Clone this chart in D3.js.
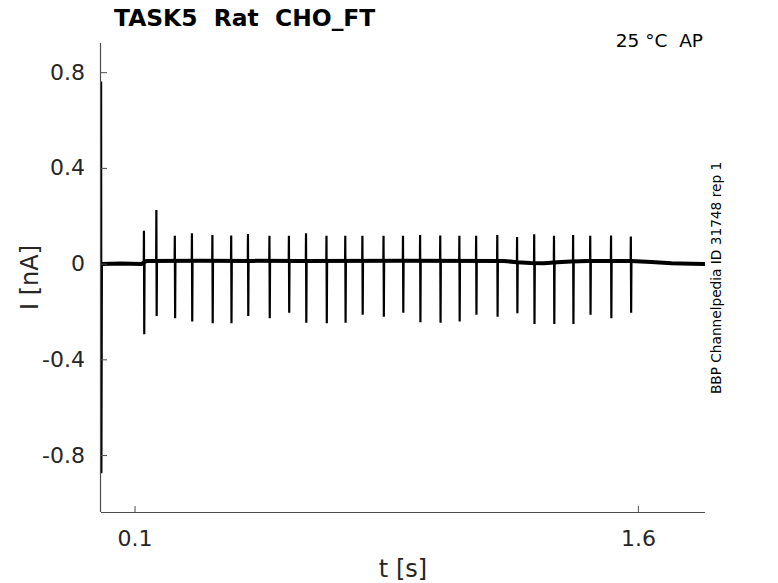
<!DOCTYPE html>
<html>
<head>
<meta charset="utf-8">
<script src="https://cdn.jsdelivr.net/npm/d3@7"></script>
<style>
  html, body { margin: 0; padding: 0; background: #fff; }
  svg { display: block; font-family: "DejaVu Sans", sans-serif; }
</style>
</head>
<body>
<svg id="chart" width="778" height="583"></svg>
<script>
// ---- data ----
const xTicks = [0.1, 1.6];
const yTicks = [-0.8, -0.4, 0, 0.4, 0.8];
const yTickLabels = ["-0.8", "-0.4", "0", "0.4", "0.8"];

const spikeTimes = [0.128, 0.165, 0.220, 0.271, 0.332, 0.388, 0.438, 0.502, 0.560, 0.611,
  0.672, 0.728, 0.779, 0.842, 0.900, 0.951, 1.011, 1.068, 1.118, 1.181,
  1.240, 1.291, 1.350, 1.407, 1.458, 1.520, 1.579];
const spikePeaks = [0.137, 0.224, 0.116, 0.127, 0.120, 0.117, 0.124, 0.116, 0.116, 0.127,
  0.116, 0.116, 0.116, 0.116, 0.116, 0.120, 0.117, 0.116, 0.116, 0.120,
  0.111, 0.123, 0.116, 0.120, 0.116, 0.117, 0.113];
const spikeTroughs = [-0.295, -0.219, -0.228, -0.242, -0.249, -0.249, -0.219, -0.228, -0.205, -0.247,
  -0.249, -0.247, -0.214, -0.222, -0.205, -0.245, -0.247, -0.242, -0.214, -0.222,
  -0.207, -0.252, -0.252, -0.252, -0.214, -0.228, -0.205];

const baselineTimes = [0.000, 0.060, 0.120, 0.135, 0.300, 0.600, 0.900, 1.200, 1.240, 1.280, 1.320, 1.360, 1.400, 1.450, 1.580, 1.640, 1.700, 1.760, 1.800];
const baselineLevels = [-0.002, 0.000, -0.002, 0.011, 0.012, 0.011, 0.012, 0.011, 0.006, 0.003, 0.002, 0.006, 0.009, 0.011, 0.011, 0.007, 0.002, -0.001, -0.002];

const transientTimes = [0.000, 0.0012, 0.0020, 0.0035];
const transientValues = [0.000, 0.761, -0.876, 0.000];
</script>
<script>
const svg = d3.select("#chart");
const L = 101, R = 705, T = 43, B = 512;
const x = d3.scaleLinear().domain([0, 1.8]).range([L, R]);
const y = d3.scaleLinear().domain([-1.038, 0.922]).range([B, T]);

const axisColor = "#4d4d4d";
const textColor = "#262626";

// baseline band
const baseLine = d3.line().x(d => x(d[0])).y(d => y(d[1]));
svg.append("path")
  .datum(baselineTimes.map((t, i) => [t, baselineLevels[i]]))
  .attr("d", baseLine)
  .attr("fill", "none").attr("stroke", "#000").attr("stroke-width", 4)
  .attr("stroke-linejoin", "round");

// baseline value at time t (from the listed levels)
function baseAt(t) {
  const i = d3.bisectRight(baselineTimes, t);
  if (i <= 0) return baselineLevels[0];
  if (i >= baselineTimes.length) return baselineLevels[baselineLevels.length - 1];
  const t0 = baselineTimes[i - 1], t1 = baselineTimes[i];
  const f = (t - t0) / (t1 - t0);
  return baselineLevels[i - 1] + f * (baselineLevels[i] - baselineLevels[i - 1]);
}

// spikes
spikeTimes.forEach((t, i) => {
  const b = baseAt(t);
  const pts = [[t - 0.0006, b], [t, spikePeaks[i]], [t + 0.0009, spikeTroughs[i]], [t + 0.0018, b]];
  svg.append("path")
    .datum(pts)
    .attr("d", baseLine)
    .attr("fill", "none").attr("stroke", "#000").attr("stroke-width", 2.2)
    .attr("stroke-linejoin", "miter");
});

// capacitive transient
svg.append("path")
  .datum(transientTimes.map((t, i) => [t, transientValues[i]]))
  .attr("d", baseLine)
  .attr("fill", "none").attr("stroke", "#000").attr("stroke-width", 1.6);

// axes
const xAxis = d3.axisBottom(x).tickValues(xTicks).tickFormat(d3.format(".1f")).tickSizeInner(-6).tickSizeOuter(0).tickPadding(18);
const gx = svg.append("g").attr("transform", `translate(0,${B})`).call(xAxis);
const yAxis = d3.axisLeft(y).tickValues(yTicks).tickFormat((d, i) => yTickLabels[i]).tickSizeInner(-6).tickSizeOuter(0).tickPadding(16);
const gy = svg.append("g").attr("transform", `translate(${L},0)`).call(yAxis);

[gx, gy].forEach(g => {
  g.select(".domain").attr("stroke", axisColor).attr("stroke-width", 1.2);
  g.selectAll(".tick line").attr("stroke", axisColor).attr("stroke-width", 1);
  g.selectAll(".tick text").attr("fill", textColor)
    .style("font-family", "DejaVu Sans, sans-serif").style("font-size", "22px");
});
gx.select(".domain").attr("d", `M${L},0.5H${R}`);
gy.select(".domain").attr("d", `M-0.5,${T}V${B}`);

// labels
svg.append("text").attr("x", (L + R) / 2).attr("y", 577)
  .attr("text-anchor", "middle").attr("fill", textColor)
  .style("font-size", "24px").text("t [s]");

svg.append("text").attr("transform", `translate(38,${(T + B) / 2}) rotate(-90)`)
  .attr("text-anchor", "middle").attr("fill", textColor)
  .style("font-size", "24px").text("I [nA]");

svg.append("text").attr("x", 114).attr("y", 26)
  .attr("fill", "#000").style("font-weight", "bold")
  .style("font-size", "23.4px").text("TASK5\u00a0\u00a0Rat\u00a0\u00a0CHO_FT");

svg.append("text").attr("x", 703).attr("y", 47)
  .attr("text-anchor", "end").attr("fill", "#000")
  .style("font-size", "18.5px").text("25 \u00b0C\u00a0\u00a0AP");

svg.append("text").attr("transform", `translate(721,${278}) rotate(-90)`)
  .attr("text-anchor", "middle").attr("fill", "#000")
  .style("font-size", "13.7px").text("BBP Channelpedia ID 31748 rep 1");
</script>
</body>
</html>
